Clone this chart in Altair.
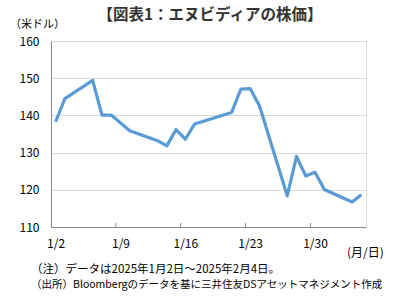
import altair as alt
import pandas as pd

dates = ["1/2", "1/3", "1/6", "1/7", "1/8", "1/10", "1/13", "1/14", "1/15", "1/16",
         "1/17", "1/21", "1/22", "1/23", "1/24", "1/27", "1/28", "1/29", "1/30",
         "1/31", "2/3", "2/4"]
prices = [138.3, 144.5, 149.4, 140.1, 140.1, 135.9, 133.2, 131.8, 136.2, 133.6,
          137.7, 140.8, 147.1, 147.2, 142.6, 118.4, 129.0, 123.7, 124.7,
          120.1, 116.7, 118.7]
tick_labels = ["1/2", "1/9", "1/16", "1/23", "1/30"]
y_ticks = [110, 120, 130, 140, 150, 160]


def day_num(s):
    m, d = s.split("/")
    return (int(d) if m == "1" else 31 + int(d))


df = pd.DataFrame({"date": dates, "day": [day_num(s) for s in dates], "price": prices})
label_days = [day_num(s) for s in tick_labels]
tick_df = pd.DataFrame({"t": [d + 6.5 for d in label_days[:-1]]})

W, H = 315, 186
FONT = "Noto Sans CJK JP"

xscale = alt.Scale(domain=[1.5, 35.5], nice=False, zero=False)
yscale = alt.Scale(domain=[110, 160], nice=False, zero=False)

label_expr = "datum.value <= 31 ? '1/' + datum.value : '2/' + (datum.value - 31)"

line = alt.Chart(df).mark_line(color="#5B9BD5", strokeWidth=3.2, strokeJoin="round").encode(
    x=alt.X("day:Q", scale=xscale,
            axis=alt.Axis(values=label_days, labelExpr=label_expr, ticks=False, grid=False,
                          title=None, labelFontSize=12, labelColor="#000000",
                          labelPadding=11, domainColor="#898989", labelFont=FONT)),
    y=alt.Y("price:Q", scale=yscale,
            axis=alt.Axis(values=y_ticks, ticks=False, grid=True, gridColor="#d9d9d9",
                          title=None, labelFontSize=12, labelColor="#000000",
                          labelPadding=12, domainColor="#898989", labelFont=FONT)),
)

ticks = alt.Chart(tick_df).mark_rule(color="#898989", strokeWidth=1).encode(
    x=alt.X("t:Q", scale=xscale),
    y=alt.value(H - 4),
    y2=alt.value(H),
)

def txt(text, x, y, size, align="left", weight="normal", color="#000000"):
    return alt.Chart(pd.DataFrame({"t": [text]})).mark_text(
        align=align, baseline="middle", fontSize=size, fontWeight=weight,
        font=FONT, color=color
    ).encode(text="t:N", x=alt.value(x), y=alt.value(y))

title = txt("【図表1：エヌビディアの株価】", 159, -26, 15.5, align="center", weight="bold", color="#333333")
unit = txt("（米ドル）", -41, -16, 11)
xunit = txt("(月/日)", 296, 212, 12)
note1 = txt("（注）データは2025年1月2日～2025年2月4日。", -20, 229, 11.5)
note2 = txt("（出所）Bloombergのデータを基に三井住友DSアセットマネジメント作成", -20, 244, 10.5)

chart = alt.layer(ticks, line, title, unit, xunit, note1, note2).properties(
    width=W, height=H,
    autosize=alt.AutoSizeParams(type="none"),
    padding={"left": 51, "top": 41, "right": 36, "bottom": 77},
).configure_view(stroke="#898989", strokeWidth=1).configure(background="white")

chart.save("out.html", embed_options={"renderer": "svg", "actions": False})
